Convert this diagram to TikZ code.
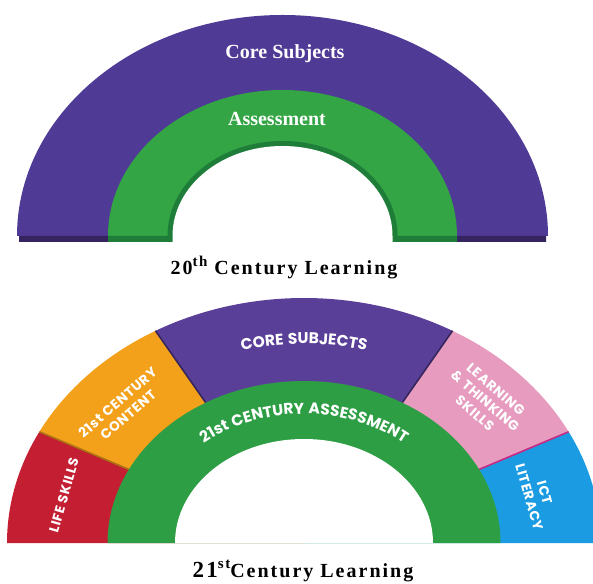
\documentclass[tikz,border=0pt]{standalone}
\usepackage{fontspec}
\setmainfont{Liberation Serif}
\newfontfamily\labelfont{Poppins}[LetterSpace=5]
\newfontfamily\capfont{Liberation Serif}[LetterSpace=10]
\usetikzlibrary{calc,decorations.text}
\definecolor{topviolet}{HTML}{4F3A96}
\definecolor{topvioletdark}{HTML}{35245F}
\definecolor{topgreen}{HTML}{33A544}
\definecolor{topgreendark}{HTML}{1F7D3A}
\definecolor{coreviolet}{HTML}{5A3F99}
\definecolor{assessgreen}{HTML}{2E9E45}
\definecolor{lifered}{HTML}{C41E32}
\definecolor{contentorange}{HTML}{F3A01B}
\definecolor{thinkpink}{HTML}{E69BBF}
\definecolor{ictblue}{HTML}{1A9BE2}
\tikzset{
  oldlabel/.style={text=white,font=\bfseries\fontsize{20}{20}\selectfont,inner sep=0pt},
  partlabel/.style={text=white,font=\labelfont\bfseries\fontsize{13.5}{16}\selectfont,align=center,inner sep=0pt},
  caption/.style={font=\capfont\bfseries\fontsize{20}{20}\selectfont,inner sep=0pt,anchor=base},
  seam/.style={line width=1.6pt}
}

\begin{document}
\begin{tikzpicture}[x=1pt,y=1pt]
  \clip (0,0) rectangle (593,583);
  \coordinate (O) at (282.5,347);
  \coordinate (P) at (304,40);

  \fill[topviolet] (O) -- ++(180:265.5 and 221) arc[start angle=180,end angle=0,x radius=265.5,y radius=221] -- cycle;
  \fill[topgreen] (O) -- ++(180:174.5 and 146) arc[start angle=180,end angle=0,x radius=174.5,y radius=146] -- cycle;
  \fill[topgreendark] (O) -- ++(180:115 and 95) arc[start angle=180,end angle=0,x radius=115,y radius=95] -- cycle;
  \fill[white] (O) -- ++(180:110 and 90) arc[start angle=180,end angle=0,x radius=110,y radius=90] -- cycle;
  \fill[topvioletdark] (19,341) rectangle (108,347) (457,341) rectangle (546,347);
  \fill[topgreendark] (108,341) rectangle (172.5,347) (392.5,341) rectangle (457,347);
  \node[oldlabel] (core) at (285,529) {Core Subjects};
  \node[oldlabel] (assess) at (277,464) {Assessment};
  \node[caption] (cap20) at (284,308) {20\raisebox{0.42em}{\fontsize{15}{15}\selectfont th} Century Learning};

  \fill[lifered] (P) -- ++(180:297 and 245) arc[start angle=180,end angle=153,x radius=297,y radius=245] -- cycle;
  \fill[contentorange] (P) -- ++(153:297 and 245) arc[start angle=153,end angle=120,x radius=297,y radius=245] -- cycle;
  \fill[coreviolet] (P) -- ++(120:297 and 245) arc[start angle=120,end angle=60,x radius=297,y radius=245] -- cycle;
  \fill[thinkpink] (P) -- ++(60:297 and 245) arc[start angle=60,end angle=27,x radius=297,y radius=245] -- cycle;
  \fill[ictblue] (P) -- ++(27:297 and 245) arc[start angle=27,end angle=0,x radius=297,y radius=245] -- cycle;
  \draw[seam,contentorange!70!black] ($(P)+(153:196.5 and 162)$) -- ($(P)+(153:297 and 245)$);
  \draw[seam,coreviolet!60!black] ($(P)+(120:196.5 and 162)$) -- ($(P)+(120:297 and 245)$);
  \draw[seam,coreviolet!60!black] ($(P)+(60:196.5 and 162)$) -- ($(P)+(60:297 and 245)$);
  \draw[seam,magenta!80!black] ($(P)+(27:196.5 and 162)$) -- ($(P)+(27:297 and 245)$);
  \fill[assessgreen] (P) -- ++(180:196.5 and 162) arc[start angle=180,end angle=0,x radius=196.5,y radius=162] -- cycle;
  \fill[white] (P) -- ++(180:129 and 104) arc[start angle=180,end angle=0,x radius=129,y radius=104] -- cycle;

  \path[decorate,decoration={text along path,text align=center,text color=white,
    text={|\labelfont\bfseries\fontsize{15.5}{15.5}\selectfont|CORE SUBJECTS}}]
    ($(P)+(150:241 and 199)$) arc[start angle=150,end angle=30,x radius=241,y radius=199];
  \path[decorate,decoration={text along path,text align=center,text color=white,
    text={|\labelfont\bfseries\fontsize{15.5}{15.5}\selectfont|21st CENTURY ASSESSMENT}}]
    ($(P)+(160:157 and 129)$) arc[start angle=160,end angle=20,x radius=157,y radius=129];
  \node[partlabel,rotate=74] (life) at ($(P)+(166.5:247 and 204)$) {LIFE SKILLS};
  \node[partlabel,rotate=41] (content) at ($(P)+(138:244 and 201)$) {21st CENTURY\\CONTENT};
  \node[partlabel,rotate=-41] (thinking) at ($(P)+(43.5:250 and 206)$) {LEARNING\\\& THINKING\\SKILLS};
  \node[partlabel,rotate=-74] (ict) at ($(P)+(14:240 and 198)$) {ICT\\LITERACY};
  \node[caption] (cap21) at (303,6) {{\fontsize{23}{23}\selectfont 21}\raisebox{0.45em}{\fontsize{15}{15}\selectfont st}Century Learning};
\end{tikzpicture}
\end{document}
